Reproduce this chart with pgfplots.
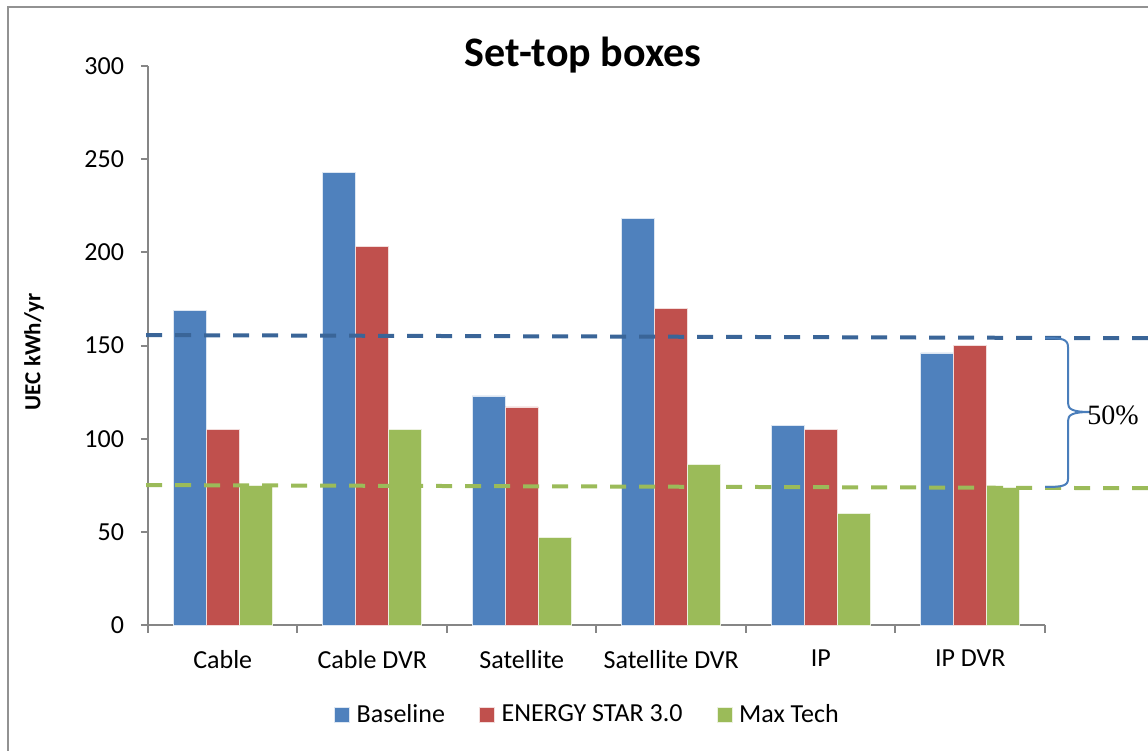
\documentclass[border=0pt]{standalone}
\usepackage{pgfplots}
\pgfplotsset{compat=1.18}
\usepackage{fontspec}
\setmainfont{Carlito}
\newfontfamily\seriffont{Liberation Serif}

\definecolor{cBase}{HTML}{4F81BD}
\definecolor{cStar}{HTML}{C0504D}
\definecolor{cMax}{HTML}{9BBB59}
\definecolor{cBlueDash}{HTML}{3A6598}
\definecolor{cGreenDash}{HTML}{9BBB59}
\definecolor{cAxis}{HTML}{868686}
\definecolor{cBrace}{HTML}{4A7EBB}

\begin{document}
\begin{tikzpicture}
\useasboundingbox (0,0) rectangle (574pt,375.5pt);
% chart area frame
\draw[color=cAxis!90, line width=1pt] (4pt,-2pt) -- (4pt,372pt) -- (580pt,372pt);

\begin{axis}[
  at={(74pt,63pt)}, anchor=south west,
  scale only axis, width=448.5pt, height=279.5pt,
  ybar=0pt, bar width=16.5pt,
  xmin=-0.5, xmax=5.5, ymin=0, ymax=300,
  xtick={0,1,2,3,4,5},
  xticklabels={Cable, Cable DVR, Satellite, Satellite DVR, IP, IP DVR},
  minor xtick={-0.5,0.5,1.5,2.5,3.5,4.5,5.5},
  ytick={0,50,100,150,200,250,300},
  axis x line*=bottom, axis y line*=left,
  axis line style={cAxis, line width=1pt, -},
  tick align=outside,
  major x tick style={draw=none},
  minor x tick style={cAxis, line width=1pt},
  minor tick length=4pt,
  major y tick style={cAxis, line width=1pt},
  major tick length=3.5pt,
  tick label style={font=\fontsize{13}{15}\selectfont},
  /pgf/number format/assume math mode=true,
  yticklabel style={xshift=-5pt},
  xticklabel style={yshift=-5.5pt},
  ylabel={\bfseries UEC kWh/yr},
  ylabel style={font=\fontsize{11.5}{13}\selectfont, at={(-56pt,136.5pt)}, anchor=center, rotate=0},
  clip=false,
  legend columns=3,
  legend style={at={(0.491,-0.161)}, anchor=center, draw=none, fill=none,
    font=\fontsize{13}{15}\selectfont,
    /tikz/every odd column/.append style={column sep=1.5pt},
    /tikz/every even column/.append style={column sep=15pt}},
  legend image code/.code={\fill[#1] (0pt,-3.75pt) rectangle (7.5pt,3.75pt);},
]
\addplot[fill=cBase, draw=white!80!cBase, line width=0.3pt] coordinates
  {(0,169) (1,243) (2,123) (3,218) (4,107) (5,146)};
\addplot[fill=cStar, draw=white!80!cStar, line width=0.3pt] coordinates
  {(0,105) (1,203) (2,117) (3,170) (4,105) (5,150)};
\addplot[fill=cMax, draw=white!80!cMax, line width=0.3pt] coordinates
  {(0,75) (1,105) (2,47) (3,86) (4,60) (5,74)};
\legend{Baseline, ENERGY STAR 3.0, Max Tech}

% reference levels
\addplot[sharp plot, cBlueDash, line width=2pt, dash pattern=on 8pt off 6.5pt, forget plot]
  coordinates {(-0.513,155.6) (6.19,153.9)};
\addplot[sharp plot, cGreenDash, line width=2pt, dash pattern=on 8pt off 6.5pt, forget plot]
  coordinates {(-0.513,75.1) (6.19,73.4)};
\end{axis}

% title
\node[font=\fontsize{21}{24}\selectfont\bfseries] at (291.5pt,348pt) {Set-top boxes};
% brace and annotation
\draw[cBrace, line width=1pt]
  (522.5pt,206.5pt) .. controls (531pt,206.5pt) and (534pt,206pt) .. (534pt,202pt)
  -- (534pt,174pt) .. controls (534pt,171pt) and (536pt,169.5pt) .. (545pt,169.5pt)
  .. controls (536pt,169.5pt) and (534pt,168pt) .. (534pt,165pt)
  -- (534pt,136pt) .. controls (534pt,132.5pt) and (531pt,132pt) .. (522.5pt,132pt);
\node[font=\seriffont\fontsize{14}{16}\selectfont, anchor=west, inner sep=0pt] at (543.5pt,168pt) {50\%};
\end{tikzpicture}
\end{document}
